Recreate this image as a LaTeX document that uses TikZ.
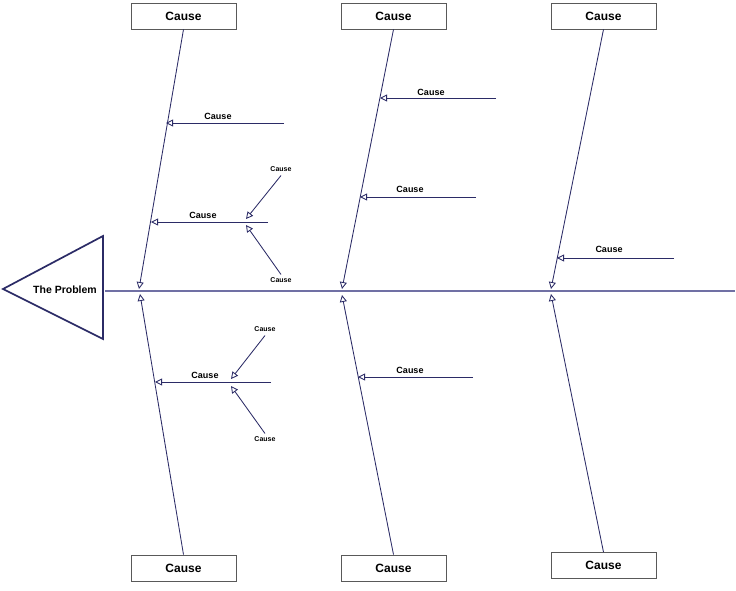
\documentclass[tikz,border=0pt]{standalone}
\usepackage{fontspec}
\setmainfont{Liberation Sans}
\usetikzlibrary{arrows.meta}
\definecolor{bonecol}{HTML}{2B2B66}
\definecolor{spinecol}{HTML}{7070A4}

\begin{document}
\begin{tikzpicture} [x = 1pt, y = -1pt,
    causebox/.style = {draw = black!65, line width = 0.8pt, minimum width = 105pt,
      minimum height = 26pt, inner sep = 0pt, font = \fontsize{12}{14}\selectfont\bfseries},
    bone/.style = {draw = bonecol, line width = 0.85pt, -{Triangle[open, length = 7pt, width = 7pt]}},
    midlabel/.style = {font = \fontsize{9}{10}\selectfont\bfseries},
    smalllabel/.style = {font = \fontsize{7}{8}\selectfont\bfseries}]
    \useasboundingbox (0,0) rectangle (736,591);
    % head and spine
    \draw [draw = bonecol, line width = 1.7pt] (3,289)--(103,236)--(103,339)--cycle;
    \node (problem) at (65,290) {\fontsize{10.5}{12}\selectfont\bfseries The Problem};
    \coordinate (spinestart) at (105,291);
    \coordinate (spineend) at (735,291);
    \draw [draw = spinecol, line width = 1.4pt] (spinestart)--(spineend);
    % cause boxes
    \node [causebox] (topA) at (183.5,16) {Cause};
    \node [causebox] (topB) at (393.5,16) {Cause};
    \node [causebox] (topC) at (603.5,16) {Cause};
    \node [causebox] (botA) at (183.5,568) {Cause};
    \node [causebox] (botB) at (393.5,568) {Cause};
    \node [causebox] (botC) at (603.5,565.5) {Cause};
    % main bones
    \coordinate (hitA) at (139,289);
    \coordinate (hitB) at (342,289);
    \coordinate (hitC) at (551,289);
    \coordinate (lowA) at (140,294);
    \coordinate (lowB) at (342,295);
    \coordinate (lowC) at (551,294);
    \draw [bone] (topA.south)--(hitA);
    \draw [bone] (topB.south)--(hitB);
    \draw [bone] (topC.south)--(hitC);
    \draw [bone] (botA.north)--(lowA);
    \draw [bone] (botB.north)--(lowB);
    \draw [bone] (botC.north)--(lowC);
    % upper left branch
    \coordinate (ua1) at (284,123); \coordinate (ua1end) at (166,123);
    \draw [bone] (ua1)--(ua1end);
    \node [midlabel] (ua1lbl) at (218,116) {Cause};
    \coordinate (ua2) at (268,222); \coordinate (ua2end) at (151,222);
    \draw [bone] (ua2)--(ua2end);
    \node [midlabel] (ua2lbl) at (203,215) {Cause};
    \node [smalllabel] (ua2up) at (281,169.5) {Cause};
    \node [smalllabel] (ua2dn) at (281,280.5) {Cause};
    \coordinate (ua2upend) at (246,219);
    \coordinate (ua2dnend) at (246,225);
    \draw [bone] (ua2up.south)--(ua2upend);
    \draw [bone] (ua2dn.north)--(ua2dnend);
    % upper middle branch
    \coordinate (ub1) at (496,98); \coordinate (ub1end) at (380,98);
    \draw [bone] (ub1)--(ub1end);
    \node [midlabel] (ub1lbl) at (431,92) {Cause};
    \coordinate (ub2) at (476,197); \coordinate (ub2end) at (360,197);
    \draw [bone] (ub2)--(ub2end);
    \node [midlabel] (ub2lbl) at (410,189.5) {Cause};
    % upper right branch
    \coordinate (uc1) at (674,258); \coordinate (uc1end) at (557,258);
    \draw [bone] (uc1)--(uc1end);
    \node [midlabel] (uc1lbl) at (609,249.5) {Cause};
    % lower left branch
    \coordinate (la1) at (271,382); \coordinate (la1end) at (155,382);
    \draw [bone] (la1)--(la1end);
    \node [midlabel] (la1lbl) at (205,375.5) {Cause};
    \node [smalllabel] (la1up) at (265,329.5) {Cause};
    \node [smalllabel] (la1dn) at (265,439.5) {Cause};
    \coordinate (la1upend) at (231,379);
    \coordinate (la1dnend) at (231,386);
    \draw [bone] (la1up.south)--(la1upend);
    \draw [bone] (la1dn.north)--(la1dnend);
    % lower middle branch
    \coordinate (lb1) at (473,377); \coordinate (lb1end) at (358,377);
    \draw [bone] (lb1)--(lb1end);
    \node [midlabel] (lb1lbl) at (410,370.5) {Cause};
  \end{tikzpicture}
\end{document}
